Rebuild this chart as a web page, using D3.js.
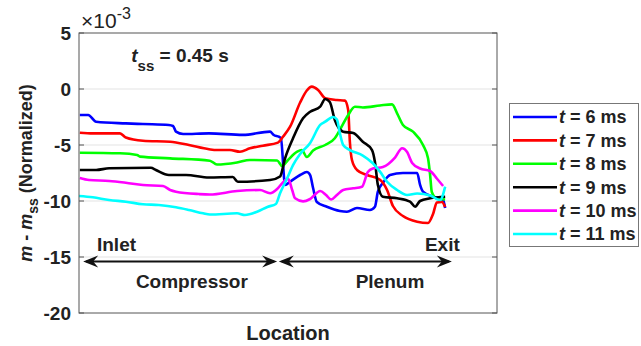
<!DOCTYPE html>
<html>
<head>
<meta charset="UTF-8">
<script src="https://d3js.org/d3.v7.min.js"></script>
<style>
  body { margin: 0; background: #fff; }
  svg { display: block; font-family: "Liberation Sans", Arial, sans-serif; font-weight: bold; }
  .grid line { stroke: #e3e3e3; stroke-width: 1; }
  .frame { fill: none; stroke: #555; stroke-width: 1; }
  .tick-label { font-size: 19px; fill: #222; }
  .note { font-size: 19px; fill: #222; }
  .legend text { font-size: 18px; fill: #222; }
</style>
</head>
<body>
<svg width="641" height="346"></svg>
<script>
// location along the rig (percent of axis width), values in units of 1e-3
const loc6 = [0.2, 2.2, 4.1, 11.2, 15.3, 21.5, 22.5, 23.2, 24.9, 31.1, 39.2, 45.7, 46.6, 47.8, 48.3, 49.3, 50.5, 52.9, 54.5, 55.3, 56.0, 56.9, 59.3, 62.4, 64.1, 66.5, 69.6, 70.8, 71.5, 72.7, 74.4, 77.5, 80.9, 81.6, 82.3, 84.7, 87.1, 87.6];
const val6 = [-2.32, -2.32, -2.92, -3.07, -3.13, -3.21, -3.30, -3.81, -4.02, -3.96, -4.10, -3.81, -4.11, -4.26, -4.38, -8.57, -8.28, -7.68, -7.41, -7.68, -8.84, -10.09, -10.51, -10.89, -10.96, -10.63, -10.80, -10.51, -9.17, -8.39, -7.68, -7.50, -7.50, -8.57, -9.17, -9.62, -9.91, -10.63];

const loc7 = [0.2, 3.3, 9.8, 11.2, 15.3, 21.8, 26.3, 31.1, 33.0, 36.1, 38.5, 40.9, 44.0, 47.6, 48.8, 50.5, 52.9, 54.5, 55.7, 57.2, 58.9, 61.7, 63.6, 64.4, 64.8, 65.3, 66.5, 68.9, 72.0, 73.7, 75.1, 77.5, 80.9, 83.5, 84.7, 85.6, 86.8, 87.6];
const val7 = [-3.90, -3.96, -3.96, -4.33, -4.62, -4.71, -5.00, -5.38, -5.45, -5.45, -5.60, -5.29, -5.06, -4.79, -4.26, -3.37, -1.21, -0.13, 0.21, -0.09, -0.83, -0.98, -1.04, -1.88, -4.71, -6.34, -7.23, -7.68, -8.10, -9.02, -10.45, -11.34, -11.85, -11.96, -11.16, -10.13, -10.09, -10.54];

const loc8 = [0.2, 9.8, 13.9, 14.6, 21.8, 31.3, 33.0, 37.8, 40.9, 47.4, 48.6, 50.0, 52.2, 53.3, 54.5, 56.0, 58.9, 61.2, 62.4, 64.4, 66.0, 67.9, 72.0, 74.9, 76.1, 77.5, 79.9, 82.3, 83.5, 84.0, 84.4, 85.6, 87.6];
const val8 = [-5.69, -5.74, -5.89, -6.04, -6.19, -6.40, -6.74, -6.56, -6.34, -6.38, -6.88, -6.34, -5.60, -5.45, -6.07, -5.49, -5.00, -4.40, -3.66, -2.32, -1.58, -1.65, -1.47, -1.37, -2.17, -3.21, -3.81, -5.00, -6.19, -7.68, -9.20, -9.78, -9.87];

const loc9 = [0.2, 4.1, 7.2, 17.2, 18.4, 21.5, 25.6, 31.1, 36.8, 38.0, 45.7, 48.1, 49.3, 51.2, 53.6, 55.3, 57.7, 58.9, 60.0, 61.2, 63.2, 65.6, 67.9, 70.1, 70.8, 71.5, 72.7, 76.1, 79.2, 80.4, 81.6, 84.0, 87.6];
const val9 = [-7.23, -7.23, -7.08, -7.03, -7.23, -7.68, -7.68, -7.90, -7.86, -8.28, -8.13, -7.81, -6.19, -4.40, -2.62, -2.03, -1.58, -0.89, -1.16, -2.77, -3.81, -3.93, -4.71, -5.45, -6.52, -8.57, -9.62, -9.76, -10.06, -10.51, -10.00, -9.76, -9.62];

const loc10 = [0.2, 2.4, 7.2, 11.2, 15.3, 20.1, 21.8, 23.2, 28.7, 31.3, 37.8, 43.3, 45.7, 47.4, 48.6, 50.0, 51.0, 51.7, 53.6, 55.3, 57.7, 59.1, 60.3, 61.7, 63.2, 65.6, 67.7, 69.1, 70.3, 72.7, 75.6, 77.3, 78.5, 79.7, 81.6, 84.0, 85.6, 87.1];
const val10 = [-7.95, -8.13, -8.21, -8.37, -8.57, -8.66, -9.02, -9.17, -9.38, -9.42, -9.11, -9.02, -9.31, -8.93, -8.42, -8.00, -9.02, -9.76, -10.03, -9.82, -9.11, -9.46, -9.87, -9.46, -9.02, -8.87, -8.72, -7.41, -7.10, -6.96, -6.12, -5.29, -5.63, -6.61, -7.10, -7.32, -7.99, -8.66];

const loc11 = [0.0, 3.3, 7.2, 11.2, 15.3, 19.1, 23.2, 26.3, 29.7, 31.3, 37.8, 39.7, 42.6, 45.2, 47.1, 48.1, 49.8, 51.2, 52.9, 55.3, 57.7, 58.9, 60.8, 61.7, 62.4, 63.2, 64.8, 67.9, 70.3, 72.0, 73.7, 76.1, 78.5, 80.9, 84.0, 86.4, 87.6];
const val11 = [-9.55, -9.67, -9.91, -10.06, -10.29, -10.36, -10.56, -10.80, -11.10, -11.21, -11.10, -11.25, -10.96, -10.51, -10.27, -9.31, -7.97, -6.79, -5.80, -4.82, -3.21, -2.92, -2.50, -2.72, -3.93, -5.00, -5.45, -5.94, -6.63, -7.38, -8.28, -9.02, -9.46, -9.33, -9.51, -9.91, -8.72];

const times = [6, 7, 8, 9, 10, 11];
const colors = ["#0000ff", "#ff0000", "#00ff00", "#000000", "#ff00ff", "#00ffff"];
const locs = [loc6, loc7, loc8, loc9, loc10, loc11];
const vals = [val6, val7, val8, val9, val10, val11];
const yTicks = [5, 0, -5, -10, -15, -20];

const svg = d3.select("svg");
const pL = 79, pR = 497, pT = 33, pB = 313;
const x = d3.scaleLinear().domain([0, 100]).range([pL, pR]);
const y = d3.scaleLinear().domain([-20, 5]).range([pB, pT]);

// grid
svg.append("g").attr("class", "grid")
  .selectAll("line").data(yTicks.slice(1, -1)).enter().append("line")
  .attr("x1", pL).attr("x2", pR)
  .attr("y1", d => y(d)).attr("y2", d => y(d));

// curves
const line = d3.line().x(d => x(d[0])).y(d => y(d[1])).curve(d3.curveMonotoneX);
times.forEach((t, i) => {
  svg.append("path")
    .datum(d3.zip(locs[i], vals[i]))
    .attr("fill", "none")
    .attr("stroke", colors[i])
    .attr("stroke-width", 2.6)
    .attr("stroke-linejoin", "round")
    .attr("d", line);
});

// frame and ticks
svg.append("rect").attr("class", "frame")
  .attr("x", pL).attr("y", pT).attr("width", pR - pL).attr("height", pB - pT);
svg.append("g").selectAll("path").data(yTicks).enter().append("path")
  .attr("stroke", "#555").attr("fill", "none")
  .attr("d", d => `M${pL},${y(d)}h5M${pR},${y(d)}h-5`);
svg.append("g").selectAll("text").data(yTicks).enter().append("text")
  .attr("class", "tick-label")
  .attr("x", pL - 8).attr("y", d => y(d)).attr("dy", "0.36em")
  .attr("text-anchor", "end")
  .text(d => d);

// exponent
const ex = svg.append("text").attr("class", "note").attr("x", 81).attr("y", 28)
  .style("font-weight", "normal").style("font-size", "21px");
ex.append("tspan").text("\u00d710");
ex.append("tspan").attr("dy", -9).style("font-size", "16px").text("-3");

// t_ss note
const ts = svg.append("text").attr("class", "note").attr("x", x(12.5)).attr("y", y(2.4));
ts.append("tspan").style("font-style", "italic").text("t");
ts.append("tspan").attr("dy", 9).style("font-size", "15px").text("ss");
ts.append("tspan").attr("dy", -9).text(" = 0.45 s");

// arrows for compressor / plenum
const arrowY = -15.4;
function arrowHead(tipX, dir) {
  const tx = x(tipX), ty = y(arrowY);
  return `M${tx},${ty}L${tx + dir * 15},${ty - 6}L${tx + dir * 10},${ty}L${tx + dir * 15},${ty + 6}Z`;
}
const spans = [[1.0, 47.4], [47.8, 89.2]];
spans.forEach(s => {
  svg.append("line")
    .attr("x1", x(s[0]) + 3).attr("x2", x(s[1]) - 3)
    .attr("y1", y(arrowY)).attr("y2", y(arrowY))
    .attr("stroke", "#111").attr("stroke-width", 2);
  svg.append("path").attr("d", arrowHead(s[0], 1)).attr("fill", "#111");
  svg.append("path").attr("d", arrowHead(s[1], -1)).attr("fill", "#111");
});
svg.append("text").attr("class", "note").attr("x", x(4.3)).attr("y", y(-14.5)).text("Inlet");
svg.append("text").attr("class", "note").attr("x", x(91.1)).attr("y", y(-14.5))
  .attr("text-anchor", "end").text("Exit");
svg.append("text").attr("class", "note").attr("x", x(27.0)).attr("y", y(-17.8))
  .attr("text-anchor", "middle").text("Compressor");
svg.append("text").attr("class", "note").attr("x", x(74.4)).attr("y", y(-17.8))
  .attr("text-anchor", "middle").text("Plenum");

// axis titles
svg.append("text").attr("class", "note")
  .attr("x", (pL + pR) / 2).attr("y", 340)
  .attr("text-anchor", "middle").style("font-size", "20px").text("Location");
const yl = svg.append("text").attr("class", "note")
  .attr("transform", `translate(32,${(pT + pB) / 2}) rotate(-90)`)
  .attr("text-anchor", "middle").style("font-size", "18px");
yl.append("tspan").style("font-style", "italic").text("m");
yl.append("tspan").text(" - ");
yl.append("tspan").style("font-style", "italic").text("m");
yl.append("tspan").attr("dy", 6).style("font-size", "14px").text("ss");
yl.append("tspan").attr("dy", -6).text(" (Normalized)");

// legend
const lg = svg.append("g").attr("class", "legend");
lg.append("rect").attr("x", 509.5).attr("y", 103.5).attr("width", 129).attr("height", 143)
  .attr("fill", "#fff").attr("stroke", "#777");
times.forEach((t, i) => {
  const ly = 117 + i * 23.4;
  lg.append("line").attr("x1", 513).attr("x2", 557).attr("y1", ly).attr("y2", ly)
    .attr("stroke", colors[i]).attr("stroke-width", 2.6);
  const tx = lg.append("text").attr("x", 559).attr("y", ly).attr("dy", "0.36em");
  tx.append("tspan").style("font-style", "italic").text("t");
  tx.append("tspan").text(` = ${t} ms`);
});
</script>
</body>
</html>
